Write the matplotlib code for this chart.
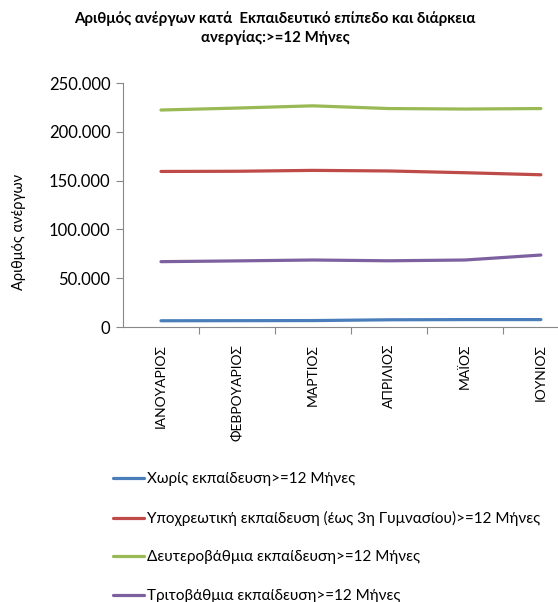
import matplotlib.pyplot as plt

plt.rcParams['font.family'] = ['Lato', 'DejaVu Sans']

months = ["ΙΑΝΟΥΑΡΙΟΣ", "ΦΕΒΡΟΥΑΡΙΟΣ", "ΜΑΡΤΙΟΣ", "ΑΠΡΙΛΙΟΣ", "ΜΑΪΟΣ", "ΙΟΥΝΙΟΣ"]

no_edu = [6400, 6500, 6600, 7400, 7600, 7600]
compulsory = [159500, 159700, 160600, 160000, 158200, 156100]
secondary = [222500, 224500, 226800, 224000, 223500, 224000]
tertiary = [67000, 67800, 68700, 67900, 68700, 73800]

labels = ["Χωρίς εκπαίδευση>=12 Μήνες",
          "Υποχρεωτική εκπαίδευση (έως 3η Γυμνασίου)>=12 Μήνες",
          "Δευτεροβάθμια εκπαίδευση>=12 Μήνες",
          "Τριτοβάθμια εκπαίδευση>=12 Μήνες"]
colors = ["#4A7EBB", "#BE4B48", "#98B954", "#7D60A0"]

fig = plt.figure(figsize=(5.58, 6.02), dpi=100)
ax = fig.add_axes([0.2204, 0.4568, 0.817, 0.405])

x = range(len(months))
for series, lab, c in zip([no_edu, compulsory, secondary, tertiary], labels, colors):
    ax.plot(x, series, color=c, lw=2.3, label=lab, solid_capstyle='round')

ax.set_xlim(-0.5, 5.5)
ax.set_ylim(0, 250000)
ax.set_yticks(range(0, 250001, 50000))
ax.set_yticklabels([f"{v:,}".replace(",", ".") for v in range(0, 250001, 50000)], fontsize=12)

# category ticks sit between months, labels under the points
ax.set_xticks([i + 0.5 for i in range(5)])
ax.set_xticklabels([])
ax.set_xticks(list(x), minor=True)
ax.set_xticklabels(months, minor=True, rotation=90, fontsize=10, va='top')
ax.tick_params(axis='x', which='minor', length=0, pad=12)
ax.tick_params(axis='x', which='major', length=5, color='#888888')
ax.tick_params(axis='y', length=5, color='#888888', pad=4)

for s in ['top', 'right']:
    ax.spines[s].set_visible(False)
for s in ['left', 'bottom']:
    ax.spines[s].set_color('#888888')

fig.text(0.034, 0.615, "Αριθμός ανέργων", rotation=90, fontsize=10.5, ha='center', va='center')

fig.text(0.493, 0.981, "Αριθμός ανέργων κατά  Εκπαιδευτικό επίπεδο και διάρκεια\nανεργίας:>=12 Μήνες",
         ha='center', va='top', fontsize=10.8, fontweight='bold', linespacing=1.3)

fig.legend(loc='upper left', bbox_to_anchor=(0.178, 0.238), frameon=False, fontsize=11.0,
           handlelength=2.0, labelspacing=1.6, handletextpad=0.2,
           bbox_transform=fig.transFigure)

fig.savefig("out.png", dpi=100)
